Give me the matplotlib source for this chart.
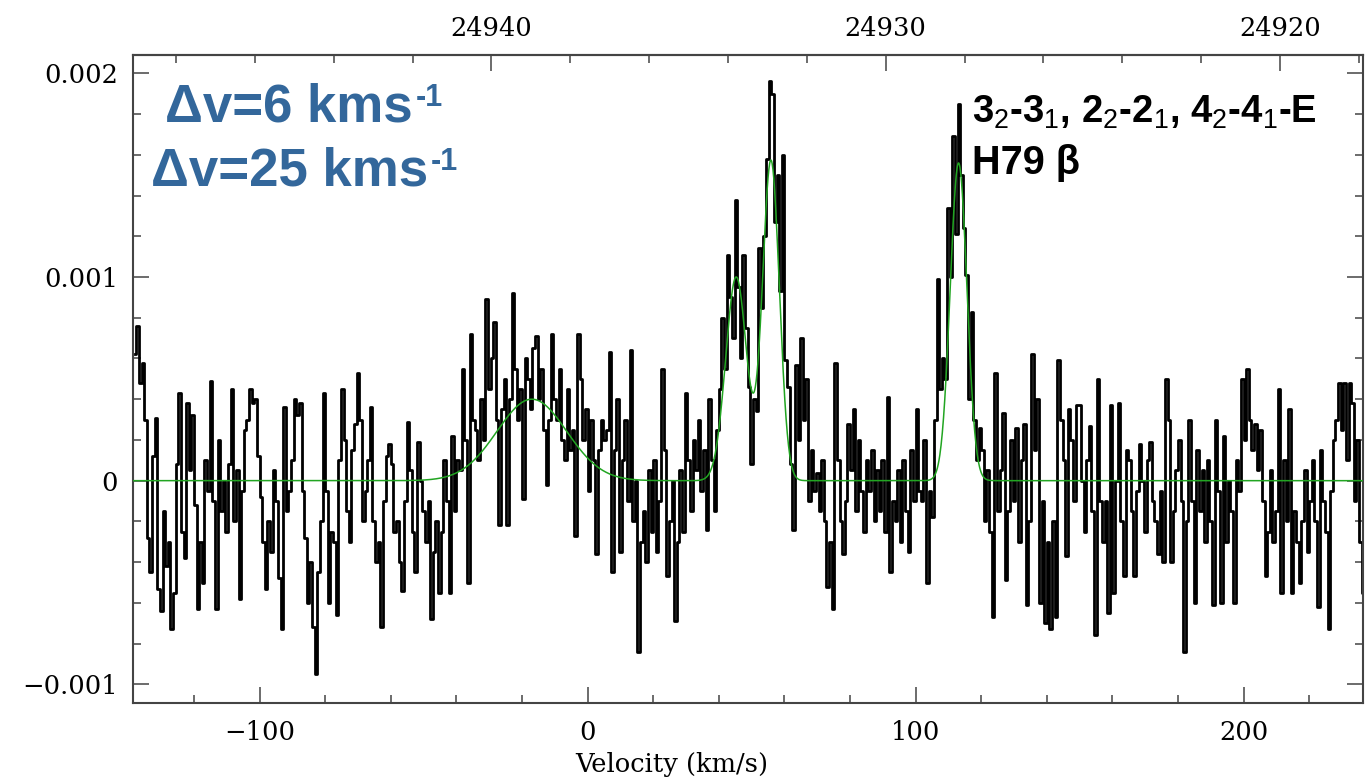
import numpy as np
import matplotlib
matplotlib.use('Agg')
import matplotlib.pyplot as plt
from matplotlib.ticker import MultipleLocator, FuncFormatter

plt.rcParams['font.family'] = 'DejaVu Serif'
plt.rcParams['mathtext.fontset'] = 'custom'
plt.rcParams['mathtext.rm'] = 'Liberation Sans'
plt.rcParams['mathtext.bf'] = 'Liberation Sans:bold'

#############################################################################
# spectrum: first channel velocity and channel width (km/s)
v_start = -138.0
dv = 0.8
# flux density in units of 1e-5, 10 channels per row
flux = [
    62, 76, 48, 58, 30, -28, -45, 12, 31, -53,      # -138 km/s
    -64, -15, -42, -30, -73, -55, 8, 43, -25, -38,  # -130
    38, 5, 32, -12, -63, -30, -50, 10, -5, 49,      # -122
    -10, -63, 20, -15, 0, -25, 8, 45, -20, 5,       # -114
    -58, -5, 25, 30, 45, 38, 40, 12, -8, -30,       # -106
    -53, -20, -35, 5, -10, -48, -73, 36, -15, -5,   # -98
    10, 40, 32, 38, -5, -28, -60, -40, -72, -95,    # -90
    -45, -20, 43, -5, -60, -25, -30, -66, 10, 45,   # -82
    20, -15, -30, 15, 28, 53, 30, -20, -5, 10,      # -74
    36, -20, -40, -30, -72, -10, 12, 18, 8, -25,    # -66
    -20, -40, -54, -10, 29, 5, -25, -45, 19, 0,     # -58
    -15, -30, -10, -68, -35, -20, -55, -25, 10, -10,  # -50
    -55, 22, -15, 10, 5, 55, 20, -50, 72, 30,       # -42
    25, 10, 40, 20, 89, 45, 60, 78, 30, -22,        # -34
    35, 50, -22, 40, 92, 55, 30, 45, -9, 60,        # -26
    50, 35, 65, 71, 40, 55, 25, -2, 30, 72,         # -18
    40, 30, 55, 20, 10, 45, 15, 25, -27, 72,        # -10
    50, 20, 35, -5, 30, 10, -36, 15, 30, 20,        # -2
    25, 63, -45, 15, 40, -35, 10, 30, -10, 64,      # 6
    -20, 0, -84, -30, -15, -40, 5, -25, 10, -35,    # 14
    -10, 55, 15, -47, -20, 0, -69, -30, 5, -25,     # 22
    43, 10, -15, 20, 5, 30, -5, 15, -24, 40,        # 30
    10, -15, 25, 45, 80, 55, 111, 90, 70, 138,      # 38
    95, 60, 111, 75, 46, 8, 40, 34, 114, 85,        # 46
    120, 158, 196, 190, 127, 150, 93, 160, 59, 46,  # 54
    8, -24, 57, 20, 70, 30, 50, -10, 15, -5,        # 62
    4, -15, 10, -20, -52, -30, -63, 58, 10, -20,    # 70
    -36, -10, 28, 5, 35, -15, 20, -5, -25, 10,      # 78
    -5, 15, -20, 5, -15, 10, -25, 41, -45, -10,     # 86
    -20, 5, -30, 10, -15, -35, 15, -10, 35, -5,     # 94
    -10, 20, -50, -5, -18, 30, 99, 45, 60, 50,      # 102
    134, 100, 169, 121, 185, 150, 124, 101, 40, 83, # 110
    30, 10, 26, 15, -20, 5, -25, -67, 53, -15,      # 118
    5, 33, -49, -15, 20, -10, 26, -30, 10, 28,      # 126
    -61, -20, 62, 15, 40, -60, -10, -70, -30, -73,  # 134
    -20, -67, 59, 30, 10, -37, 35, 20, -10, 37,     # 142
    37, 0, -25, 10, 27, -15, -76, 50, -10, -30,     # 150
    -10, -65, 37, -55, 0, 38, -20, -47, 15, 10,     # 158
    -15, -47, -5, 18, 0, -25, 10, 19, -10, -20,     # 166
    -36, -5, -40, 50, 30, -40, -15, 5, 20, -10,     # 174
    -84, -20, 30, -10, -60, 15, -15, 5, -30, 10,    # 182
    -20, -61, 30, -5, -60, 22, -30, 0, -15, -60,    # 190
    10, -5, 50, 20, 55, 30, 15, 28, 5, 25,          # 198
    -10, -47, -25, 5, -30, -15, 45, -55, 10, -20,   # 206
    35, -55, -15, -30, -50, -20, 5, -35, -10, 10,   # 214
    -20, -62, 15, -10, -25, -73, -5, 20, 30, 48,    # 222
    25, 48, 10, 48, 38, -10, 20, -30, -55, -40,     # 230
]

# gaussian fit components (green model)
fit_center = [-17.0, 45.3, 55.9, 113.1]      # km/s
fit_peak = [0.40e-3, 1.00e-3, 1.57e-3, 1.56e-3]
fit_fwhm = [25.0, 7.5, 6.0, 6.0]             # km/s

# frequency axis (MHz) on top
f_ref = 24937.56
c_kms = 299792.458
freq_ticks = [24920, 24930, 24940]
vel_ticks = [-100, 0, 100, 200]
flux_ticks = [-0.001, 0, 0.001, 0.002]
#############################################################################

vel = v_start + dv * np.arange(len(flux))
spec = np.array(flux) * 1e-5

xmin, xmax = -138.5, 236.4
ymin, ymax = -0.001093, 0.00209

def vel_to_freq(v):
	return f_ref * (1.0 - np.asarray(v) / c_kms)

def freq_to_vel(f):
	return c_kms * (1.0 - np.asarray(f) / f_ref)

v_model = np.linspace(xmin, xmax, 3000)
model = np.zeros_like(v_model)
for cen, pk, fw in zip(fit_center, fit_peak, fit_fwhm):
	sig = fw / 2.3548
	model += pk * np.exp(-0.5 * ((v_model - cen) / sig) ** 2)

fig = plt.figure(figsize=(13.66, 7.83), dpi=100)
ax = fig.add_axes([0.0976, 0.1018, 0.9002, 0.8280])

ax.step(vel, spec, where='mid', color='black', linewidth=2.0, zorder=2)
ax.plot(v_model, model, color='#22a522', linewidth=1.1, zorder=3)

ax.set_xlim(xmin, xmax)
ax.set_ylim(ymin, ymax)

axis_col = '#444444'
for sp in ax.spines.values():
	sp.set_color(axis_col)
	sp.set_linewidth(1.5)

ax.set_xticks(vel_ticks)
ax.xaxis.set_minor_locator(MultipleLocator(20))
ax.set_yticks(flux_ticks)
ax.yaxis.set_minor_locator(MultipleLocator(0.0002))
ax.yaxis.set_major_formatter(FuncFormatter(lambda y, p: '0' if abs(y) < 1e-9 else ('%.3f' % y).replace('-', '\u2212')))

ax.tick_params(axis='x', which='both', direction='in', top=False, bottom=True)
ax.tick_params(axis='y', which='both', direction='in', left=True, right=True)
ax.tick_params(which='major', length=11.5, width=1.1, color=axis_col)
ax.tick_params(which='minor', length=5.8, width=1.1, color=axis_col)
ax.tick_params(axis='x', which='major', pad=12, labelsize=18.5)
ax.tick_params(axis='y', which='major', pad=11, labelsize=18.5)

secax = ax.secondary_xaxis('top', functions=(vel_to_freq, freq_to_vel))
secax.set_xticks(freq_ticks)
secax.xaxis.set_minor_locator(MultipleLocator(2))
secax.tick_params(which='both', direction='in', color=axis_col, width=1.1)
secax.tick_params(which='major', length=11.5, pad=10, labelsize=18.5)
secax.tick_params(which='minor', length=5.8)
secax.spines['top'].set_color(axis_col)
secax.spines['top'].set_linewidth(1.5)

ax.set_xlabel('Velocity (km/s)', fontsize=18.5)
ax.xaxis.set_label_coords((672 - 133.3) / 1229.7, -0.075)

# annotations
blue = '#33679b'
W, H = 1366.0, 783.0
for txt, x0, yb in [('\u0394v=6 kms', 165, 122), ('\u0394v=25 kms', 151, 186)]:
	t = fig.text(x0 / W, 1 - yb / H, txt, color=blue, fontsize=38, fontweight='bold',
		family='Liberation Sans', va='baseline', ha='left')
	ax.annotate('-1', xy=(1, 1), xycoords=t, xytext=(2, 0), textcoords='offset points',
		color=blue, fontsize=22, fontweight='bold', family='Liberation Sans', va='top', ha='left')

fig.text(972 / W, 1 - 123 / H,
	r'3$_\mathrm{2}$-3$_\mathrm{1}$, 2$_\mathrm{2}$-2$_\mathrm{1}$, 4$_\mathrm{2}$-4$_\mathrm{1}$-E',
	color='black', fontsize=27.5, fontweight='bold', family='Liberation Sans', va='baseline', ha='left')
fig.text(972 / W, 1 - 174 / H, 'H79 \u03b2', color='black', fontsize=28.5, fontweight='bold',
	family='Liberation Sans', va='baseline', ha='left')

fig.savefig('out.png', dpi=100)
